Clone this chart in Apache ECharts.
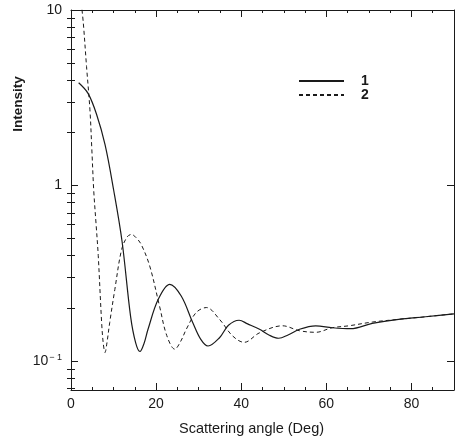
<!DOCTYPE html>
<html>
<head>
<meta charset="utf-8">
<script src="https://cdn.jsdelivr.net/npm/echarts@6/dist/echarts.min.js"></script>
<style>html,body{margin:0;padding:0;background:#fff;}#c{width:457px;height:446px;}</style>
</head>
<body>
<div id="c"></div>
<script>
// Series 1 (solid): [angle, intensity]
const series1Angles = [1.8, 4.0, 6.0, 8.0, 10.0, 12.0, 14.0, 15.2, 16.2, 17.2, 18.1, 20.5, 23.2, 25.9, 28.6, 30.5, 32.2, 34.9, 37.0, 39.5, 41.5, 44.3, 46.5, 48.8, 51.0, 53.7, 57.5, 61.4, 65.7, 70.8, 77.0, 83.3, 90.0];
const series1Values = [3.85, 3.35, 2.55, 1.71, 0.95, 0.48, 0.18, 0.127, 0.1135, 0.127, 0.152, 0.225, 0.274, 0.235, 0.166, 0.133, 0.122, 0.136, 0.160, 0.171, 0.163, 0.152, 0.141, 0.135, 0.141, 0.152, 0.159, 0.155, 0.153, 0.164, 0.173, 0.179, 0.186];
// Series 2 (dashed)
const series2Angles = [2.4, 2.9, 3.65, 4.45, 4.9, 5.35, 5.9, 6.4, 7.2, 7.6, 8.0, 8.4, 9.1, 10.3, 11.9, 13.2, 14.2, 15.3, 16.5, 18.5, 20.8, 22.5, 24.4, 25.8, 27.1, 29.4, 31.8, 34.9, 38.0, 40.7, 44.3, 49.7, 53.7, 57.5, 61.4, 65.3, 70.8, 77.0, 83.3, 90.0];
const series2Values = [11, 8.4, 4.77, 2.7, 1.6, 0.93, 0.6, 0.40, 0.166, 0.125, 0.112, 0.125, 0.166, 0.256, 0.433, 0.51, 0.527, 0.505, 0.462, 0.348, 0.206, 0.14, 0.117, 0.13, 0.152, 0.189, 0.202, 0.173, 0.139, 0.128, 0.145, 0.159, 0.149, 0.146, 0.155, 0.159, 0.167, 0.173, 0.179, 0.186];
const seriesNames = ['1', '2'];
const xTickLabels = [0, 20, 40, 60, 80];
const yMajorTicks = [0.1, 1, 10];
const yMinorTicks = [0.07, 0.08, 0.09, 0.2, 0.3, 0.4, 0.5, 0.6, 0.7, 0.8, 0.9, 2, 3, 4, 5, 6, 7, 8, 9];
const xTitle = 'Scattering angle (Deg)';
const yTitle = 'Intensity';

const FONT = 'Liberation Sans, Arial, Helvetica, sans-serif';
const INK = '#1a1a1a';
const X_MIN = 0, X_MAX = 90, Y_MIN = 0.0685, Y_MAX = 10;

function zip(a, b) { return a.map((v, i) => [v, b[i]]); }

const chart = echarts.init(document.getElementById('c'), null, {renderer: 'canvas'});

function xAx(pos, showLabels) {
  return {
    type: 'value', position: pos, min: X_MIN, max: X_MAX, interval: 20,
    axisLine: {show: true, onZero: false, lineStyle: {color: INK, width: 1}},
    axisTick: {show: true, inside: true, length: 7, lineStyle: {color: INK, width: 1}, customValues: xTickLabels},
    minorTick: {show: true, splitNumber: 4, length: 3, lineStyle: {color: INK, width: 1}},
    splitLine: {show: false}, minorSplitLine: {show: false},
    axisLabel: {show: showLabels, margin: 7, color: INK, fontFamily: FONT, fontSize: 14, customValues: xTickLabels},
    name: showLabels ? xTitle : '', nameLocation: 'middle', nameGap: 31,
    nameTextStyle: {color: INK, fontFamily: FONT, fontSize: 14.5, padding: [0, 22, 0, 0]}
  };
}
function yMajor(pos, showLabels) {
  return {
    type: 'log', logBase: 10, position: pos, min: Y_MIN, max: Y_MAX,
    axisLine: {show: true, onZero: false, lineStyle: {color: INK, width: 1}},
    axisTick: {show: true, inside: true, length: 7, lineStyle: {color: INK, width: 1}, customValues: yMajorTicks},
    splitLine: {show: false},
    axisLabel: {
      show: showLabels, margin: 9, color: INK, fontFamily: FONT, fontSize: 14, customValues: yMajorTicks,
      formatter: function (v) {
        if (Math.abs(v - 0.1) < 1e-9) return '{b|10}{s|\u2212 1}';
        return '{b|' + (v >= 1 ? Math.round(v) : v) + '}';
      },
      rich: {
        b: {fontFamily: FONT, fontSize: 14, color: INK},
        s: {fontFamily: FONT, fontSize: 9, color: INK, verticalAlign: 'top', padding: [0, 0, 8, 1]}
      }
    }
  };
}
function yMinor(pos) {
  return {
    type: 'log', logBase: 10, position: pos, min: Y_MIN, max: Y_MAX,
    axisLine: {show: false},
    axisTick: {show: true, inside: true, length: 4, lineStyle: {color: INK, width: 1}, customValues: yMinorTicks},
    splitLine: {show: false},
    axisLabel: {show: false}
  };
}

chart.setOption({
  backgroundColor: '#fff',
  animation: false,
  grid: {left: 71, right: 3, top: 10, bottom: 56, containLabel: false},
  xAxis: [xAx('bottom', true), xAx('top', false)],
  yAxis: [yMajor('left', true), yMinor('left'), yMajor('right', false), yMinor('right')],
  legend: {
    orient: 'vertical', left: 298, top: 74, padding: 0, itemWidth: 45, itemHeight: 14, itemGap: 0,
    data: seriesNames,
    itemStyle: {opacity: 0},
    textStyle: {color: INK, fontFamily: FONT, fontSize: 14, fontWeight: 'bold', padding: [0, 0, 0, 12]}
  },
  graphic: [{
    type: 'text', x: 18, y: 104, rotation: Math.PI / 2,
    style: {text: yTitle, fill: INK, font: 'bold 13.5px ' + FONT, align: 'center', verticalAlign: 'middle'}
  }],
  series: [
    {
      name: seriesNames[0], type: 'line', xAxisIndex: 0, yAxisIndex: 0,
      data: zip(series1Angles, series1Values), smooth: 0.35, symbol: 'none', showSymbol: false,
      clip: true, color: INK,
      lineStyle: {color: INK, width: 1.2, type: 'solid'}
    },
    {
      name: seriesNames[1], type: 'line', xAxisIndex: 0, yAxisIndex: 0,
      data: zip(series2Angles, series2Values), smooth: 0.35, symbol: 'none', showSymbol: false,
      clip: true, color: INK,
      lineStyle: {color: INK, width: 1, type: [4, 3]}
    }
  ]
});
</script>
</body>
</html>
